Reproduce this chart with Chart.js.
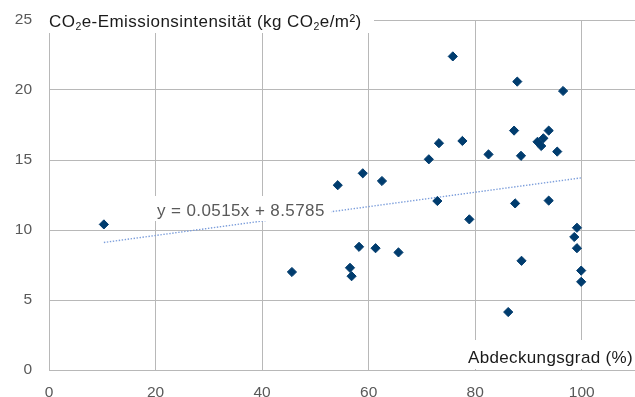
<!DOCTYPE html>
<html>
<head>
<meta charset="utf-8">
<script src="https://cdn.jsdelivr.net/npm/chart.js@4/dist/chart.umd.min.js"></script>
<style>
  html, body { margin: 0; padding: 0; background: #ffffff; }
  #wrap { width: 635px; height: 397px; position: relative; }
</style>
</head>
<body>
<div id="wrap"><canvas id="c" width="635" height="397"></canvas></div>
<script>
// Coverage (%) per building / portfolio
const coverage = [10.3, 45.6, 54.2, 56.5, 56.8, 58.2, 58.9, 61.3, 62.5, 65.6,
                  71.3, 72.9, 73.2, 75.8, 77.6, 78.9, 82.5, 86.2, 87.3, 87.5,
                  87.9, 88.6, 88.7, 91.7, 92.4, 92.8, 93.8, 93.8, 95.4, 96.5,
                  98.6, 99.1, 99.1, 99.9, 99.9];
// CO2e emission intensity (kg CO2e/m2)
const intensity = [10.4, 7.0, 13.2, 7.3, 6.7, 8.8, 14.05, 8.7, 13.5, 8.4,
                   15.05, 12.07, 16.2, 22.4, 16.36, 10.76, 15.4, 4.14, 17.1, 11.9,
                   20.6, 15.3, 7.8, 16.3, 16.0, 16.55, 17.1, 12.1, 15.6, 19.93,
                   9.5, 10.16, 8.7, 7.1, 6.3];
// Linear trendline, as printed on the chart
const trendSlope = 0.0515;
const trendIntercept = 8.5785;
const trendRange = [10.3, 100];
const trendLabel = 'y = 0.0515x + 8.5785';
const xTicks = [0, 20, 40, 60, 80, 100];
const yTicks = [0, 5, 10, 15, 20, 25];

const points = coverage.map((x, i) => ({ x: x, y: intensity[i] }));
const trend = trendRange.map(x => ({ x: x, y: trendSlope * x + trendIntercept }));

const FONT = '"Liberation Sans", Arial, Helvetica, sans-serif';

function drawRuns(ctx, runs, x, y, size) {
  let cx = x;
  runs.forEach(r => {
    const fs = r.sub ? size * 0.62 : size;
    ctx.font = fs + 'px ' + FONT;
    ctx.fillText(r.t, cx, y + (r.sub ? size * 0.22 : 0));
    cx += ctx.measureText(r.t).width;
  });
  return cx;
}

const overlay = {
  id: 'overlay',
  afterDraw(chart) {
    const ctx = chart.ctx;
    ctx.save();
    ctx.fillStyle = '#ffffff';
    // y title box
    ctx.fillRect(40, 0, 334, 33);
    // x title box
    ctx.fillRect(461, 340, 174, 29);
    // trend label box
    ctx.fillRect(150, 196, 181, 25);

    ctx.textBaseline = 'alphabetic';
    ctx.textAlign = 'left';
    ctx.fillStyle = '#1a1a1a';
    ctx.letterSpacing = '0.45px';
    drawRuns(ctx, [
      { t: 'CO' }, { t: '2', sub: true }, { t: 'e-Emissionsintensität (kg CO' },
      { t: '2', sub: true }, { t: 'e/m²)' }
    ], 49, 26.5, 17);

    ctx.letterSpacing = '0.35px';
    ctx.font = '17px ' + FONT;
    ctx.fillText('Abdeckungsgrad (%)', 468, 363);

    ctx.letterSpacing = '0.4px';
    ctx.fillStyle = '#595959';
    ctx.font = '17px ' + FONT;
    ctx.fillText(trendLabel, 157, 216);
    ctx.letterSpacing = '0px';
    ctx.restore();
  }
};

new Chart(document.getElementById('c'), {
  type: 'scatter',
  data: {
    datasets: [
      {
        label: 'Intensität',
        data: points,
        pointStyle: 'rectRot',
        pointRadius: 4.6,
        pointHoverRadius: 4.6,
        backgroundColor: '#003c6e',
        borderColor: '#003c6e',
        borderWidth: 1,
        order: 1
      },
      {
        label: 'Trend',
        type: 'line',
        data: trend,
        showLine: true,
        pointRadius: 0,
        borderColor: '#7c9edb',
        borderWidth: 1.4,
        borderDash: [1.4, 1.6],
        fill: false,
        order: 2
      }
    ]
  },
  options: {
    responsive: false,
    animation: false,
    events: [],
    layout: { autoPadding: false, padding: { top: 20, left: 0, right: 0, bottom: 0 } },
    plugins: {
      legend: { display: false },
      tooltip: { enabled: false },
      title: { display: false }
    },
    scales: {
      x: {
        type: 'linear',
        min: 0,
        max: 110,
        border: { display: false },
        grid: { color: '#b8b8b8', lineWidth: 1, drawTicks: false },
        afterFit(s) { s.height = 27; s.paddingLeft = 0; s.paddingRight = 0; },
        afterBuildTicks(s) { s.ticks = xTicks.map(v => ({ value: v })); },
        ticks: {
          includeBounds: false,
          stepSize: 20,
          padding: 13,
          color: '#595959',
          font: { family: FONT, size: 15.5 }
        }
      },
      y: {
        type: 'linear',
        min: 0,
        max: 25,
        border: { display: false },
        grid: { color: '#b8b8b8', lineWidth: 1, drawTicks: false },
        afterFit(s) { s.width = 49; s.paddingTop = 0; s.paddingBottom = 0; },
        afterBuildTicks(s) { s.ticks = yTicks.map(v => ({ value: v })); },
        ticks: {
          stepSize: 5,
          padding: 17,
          color: '#595959',
          font: { family: FONT, size: 15.5 }
        }
      }
    }
  },
  plugins: [overlay]
});
</script>
</body>
</html>
